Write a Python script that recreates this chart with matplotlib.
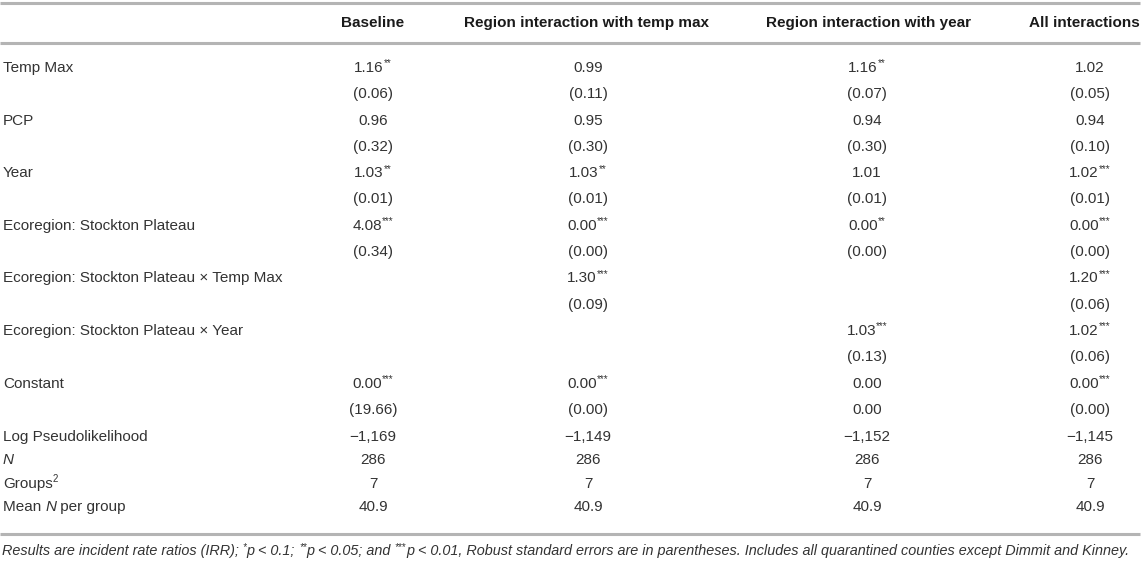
import matplotlib
matplotlib.use("Agg")
import matplotlib.pyplot as plt

plt.rcParams["font.family"] = ["Liberation Sans", "DejaVu Sans"]

headers = ["Baseline", "Region interaction with temp max",
           "Region interaction with year", "All interactions"]

row_labels = ["Temp Max", "", "PCP", "", "Year", "",
              "Ecoregion: Stockton Plateau", "",
              "Ecoregion: Stockton Plateau \u00d7 Temp Max", "",
              "Ecoregion: Stockton Plateau \u00d7 Year", "",
              "Constant", "", "Log Pseudolikelihood", "N",
              "Groups^2", "Mean N per group"]

baseline = ["1.16**", "(0.06)", "0.96", "(0.32)", "1.03**", "(0.01)",
            "4.08***", "(0.34)", "", "", "", "", "0.00***", "(19.66)",
            "\u22121,169", "286", "7", "40.9"]
temp_max = ["0.99", "(0.11)", "0.95", "(0.30)", "1.03**", "(0.01)",
            "0.00***", "(0.00)", "1.30***", "(0.09)", "", "", "0.00***", "(0.00)",
            "\u22121,149", "286", "7", "40.9"]
year_int = ["1.16**", "(0.07)", "0.94", "(0.30)", "1.01", "(0.01)",
            "0.00**", "(0.00)", "", "", "1.03***", "(0.13)", "0.00", "0.00",
            "\u22121,152", "286", "7", "40.9"]
all_int = ["1.02", "(0.05)", "0.94", "(0.10)", "1.02***", "(0.01)",
           "0.00***", "(0.00)", "1.20***", "(0.06)", "1.02***", "(0.06)", "0.00***", "(0.00)",
           "\u22121,145", "286", "7", "40.9"]

# (text, superscript?) pieces
footnote = [("Results are incident rate ratios (IRR); ", False), ("*", True),
            ("p < 0.1; ", False), ("**", True), ("p < 0.05; and ", False),
            ("***", True),
            ("p < 0.01, Robust standard errors are in parentheses. "
             "Includes all quarantined counties except Dimmit and Kinney.", False)]

W, H = 1143, 564
fig = plt.figure(figsize=(W / 100, H / 100), dpi=100)
ax = fig.add_axes([0, 0, 1, 1])
ax.set_xlim(0, W)
ax.set_ylim(H, 0)
ax.axis("off")
renderer = fig.canvas.get_renderer()

line_col = "#b4b4b4"
txt_col = "#333333"
fs = 11
sup_fs = 7


def text_width(s, size, **kw):
    t = ax.text(0, 0, s, fontsize=size, **kw)
    w = t.get_window_extent(renderer).width
    t.remove()
    return w


def draw_runs(x, y, runs, size, ha="left", **kw):
    # draws a row of text pieces, superscript ones small and raised
    widths = []
    for s, sup in runs:
        widths.append(text_width(s, sup_fs if sup else size, **kw))
    total = sum(widths)
    if ha == "center":
        x = x - total / 2
    for (s, sup), w in zip(runs, widths):
        if sup:
            ax.text(x, y - size * 0.42, s, fontsize=sup_fs, ha="left",
                    va="center", color=txt_col, **kw)
        else:
            ax.text(x, y, s, fontsize=size, ha="left", va="center",
                    color=txt_col, **kw)
        x += w


def split_cell(cell):
    num = cell.rstrip("*")
    stars = cell[len(num):]
    runs = [(num, False)]
    if stars:
        runs.append((stars, True))
    return runs


def split_label(lab):
    if lab == "N":
        return [("N", False, "italic")]
    if lab.startswith("Mean N"):
        return [("Mean ", False, "normal"), ("N", False, "italic"),
                (" per group", False, "normal")]
    if lab.endswith("^2"):
        return [(lab[:-2], False, "normal"), ("2", True, "normal")]
    return [(lab, False, "normal")]


head_x = [373, 586, 868, 1084]
col_x = [373, 588, 867, 1090]
# coefficient rows are spaced wider than the summary rows at the bottom
row_y = [68 + i * 26.3 for i in range(14)] + [437, 460.5, 484, 507]

ax.hlines([3, 43, 534], 0, 1140, colors=line_col, linewidth=2.2)

for cx, h in zip(head_x, headers):
    ax.text(cx, 23, h, ha="center", va="center", fontsize=fs,
            fontweight="bold", color="#1a1a1a")

columns = [baseline, temp_max, year_int, all_int]
for i, lab in enumerate(row_labels):
    y = row_y[i]
    x = 3
    for s, sup, st in split_label(lab) if lab else []:
        size = sup_fs if sup else fs
        w = text_width(s, size, style=st)
        ax.text(x, y - (fs * 0.42 if sup else 0), s, fontsize=size,
                style=st, ha="left", va="center", color=txt_col)
        x += w
    for cx, col in zip(col_x, columns):
        if col[i]:
            draw_runs(cx, y, split_cell(col[i]), fs, ha="center")

draw_runs(2, 551, footnote, 10.4, style="italic")

fig.savefig("out.png", dpi=100)
